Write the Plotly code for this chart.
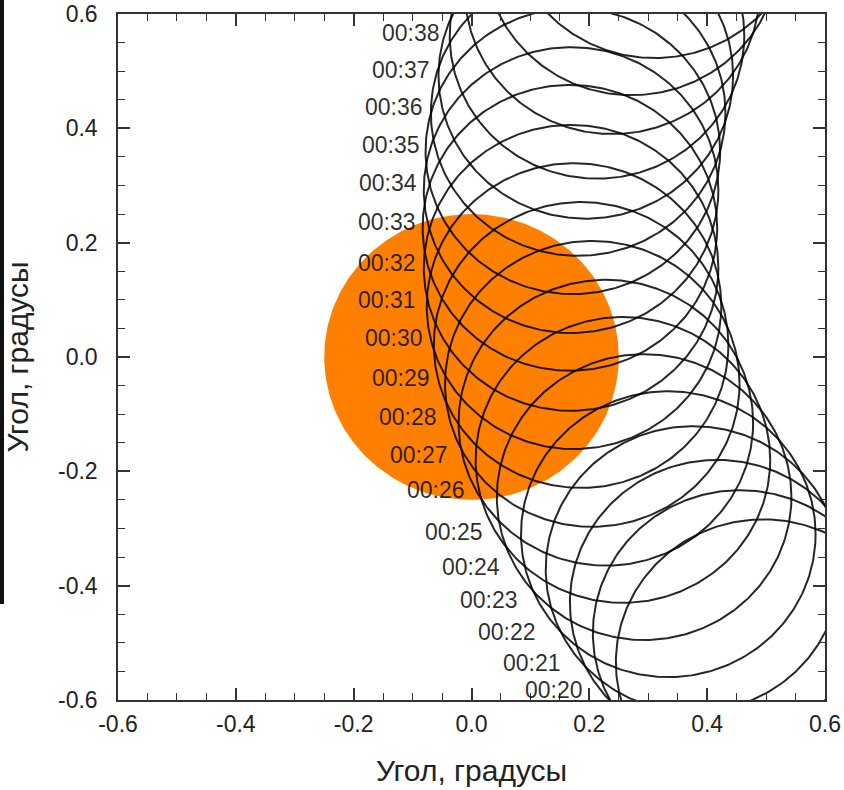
import numpy as np
import plotly.graph_objects as go

# ---- data (degrees) ----
# Moon disc centres, one per minute
moon_times = ["00:21", "00:22", "00:23", "00:24", "00:25", "00:26", "00:27", "00:28",
              "00:29", "00:30", "00:31", "00:32", "00:33", "00:34", "00:35", "00:36",
              "00:37", "00:38", "00:39", "00:40", "00:41"]
moon_x = [0.495, 0.456, 0.417, 0.376, 0.334, 0.293, 0.257, 0.228,
          0.205, 0.186, 0.174, 0.169, 0.167, 0.169, 0.172, 0.181,
          0.194, 0.213, 0.239, 0.272, 0.311]
moon_y = [-0.534, -0.483, -0.430, -0.371, -0.310, -0.245, -0.180, -0.115,
          -0.047, 0.021, 0.089, 0.156, 0.226, 0.292, 0.360, 0.427,
          0.492, 0.562, 0.640, 0.708, 0.773]
moon_radius = 0.25

# Sun disc
sun_x, sun_y, sun_radius = 0.0, 0.0, 0.25

# time labels and where they sit (right end of text, degrees)
label_text = ["00:20", "00:21", "00:22", "00:23", "00:24", "00:25", "00:26", "00:27",
              "00:28", "00:29", "00:30", "00:31", "00:32", "00:33", "00:34", "00:35",
              "00:36", "00:37", "00:38"]
label_x = [0.193, 0.155, 0.113, 0.082, 0.052, 0.023, -0.008, -0.036,
           -0.055, -0.067, -0.079, -0.091, -0.091, -0.091, -0.089, -0.084,
           -0.079, -0.067, -0.050]
label_y = [-0.583, -0.535, -0.481, -0.425, -0.367, -0.306, -0.233, -0.171,
           -0.105, -0.037, 0.033, 0.100, 0.164, 0.236, 0.304, 0.371,
           0.437, 0.502, 0.567]

tick_vals = [-0.6, -0.4, -0.2, 0.0, 0.2, 0.4, 0.6]
tick_text = ["-0.6", "-0.4", "-0.2", "0.0", "0.2", "0.4", "0.6"]
minor_vals = [round(-0.6 + 0.05 * i, 2) for i in range(25)]
axis_title = "Угол, градусы"

FONT = "Liberation Sans, Arial"

# ---- build figure ----
phi = np.linspace(0, 2 * np.pi, 361)
fig = go.Figure()

fig.add_trace(go.Scatter(
    x=sun_x + sun_radius * np.cos(phi), y=sun_y + sun_radius * np.sin(phi),
    mode="lines", fill="toself", fillcolor="#FF8000",
    line=dict(width=0, color="#FF8000"), hoverinfo="skip", showlegend=False))

cx_all, cy_all = [], []
for cx, cy in zip(moon_x, moon_y):
    cx_all += list(cx + moon_radius * np.cos(phi)) + [None]
    cy_all += list(cy + moon_radius * np.sin(phi)) + [None]
fig.add_trace(go.Scatter(
    x=cx_all, y=cy_all, mode="lines",
    line=dict(color="rgba(0,0,0,0.85)", width=2.0),
    hoverinfo="skip", showlegend=False))

for t, lx, ly in zip(label_text, label_x, label_y):
    fig.add_annotation(
        x=lx, y=ly, xref="x", yref="y", text=t, showarrow=False,
        xanchor="right", yanchor="middle",
        font=dict(family=FONT, size=23, color="rgba(15,15,15,0.88)"))

axis_common = dict(
    range=[-0.6, 0.6], tickmode="array", tickvals=tick_vals, ticktext=tick_text,
    ticks="inside", ticklen=12, tickwidth=1.5, tickcolor="#333",
    showline=True, linecolor="#333", linewidth=1.5, mirror="ticks",
    showgrid=False, zeroline=False, automargin=False,
    tickfont=dict(family=FONT, size=23, color="#222"),
    minor=dict(tickmode="array", tickvals=minor_vals, ticks="inside", ticklen=7,
               tickwidth=1.2, tickcolor="#333", showgrid=False),
)

fig.update_layout(
    width=844, height=790,
    margin=dict(l=118, r=19, t=14, b=90, autoexpand=False),
    paper_bgcolor="white", plot_bgcolor="white",
    xaxis=dict(axis_common, ticklabelstandoff=3,
               title=dict(text=axis_title, standoff=24,
                          font=dict(family=FONT, size=30, color="#222"))),
    yaxis=dict(axis_common, ticklabelstandoff=14,
               title=dict(text=axis_title, standoff=21,
                          font=dict(family=FONT, size=30, color="#222"))),
    shapes=[dict(type="rect", xref="paper", yref="paper",
                 x0=-118 / 707, x1=-114 / 707, y0=1 - 590 / 686, y1=1 + 14 / 686,
                 fillcolor="#111", line=dict(width=0), layer="above")],
)

fig.write_html("out.html")
